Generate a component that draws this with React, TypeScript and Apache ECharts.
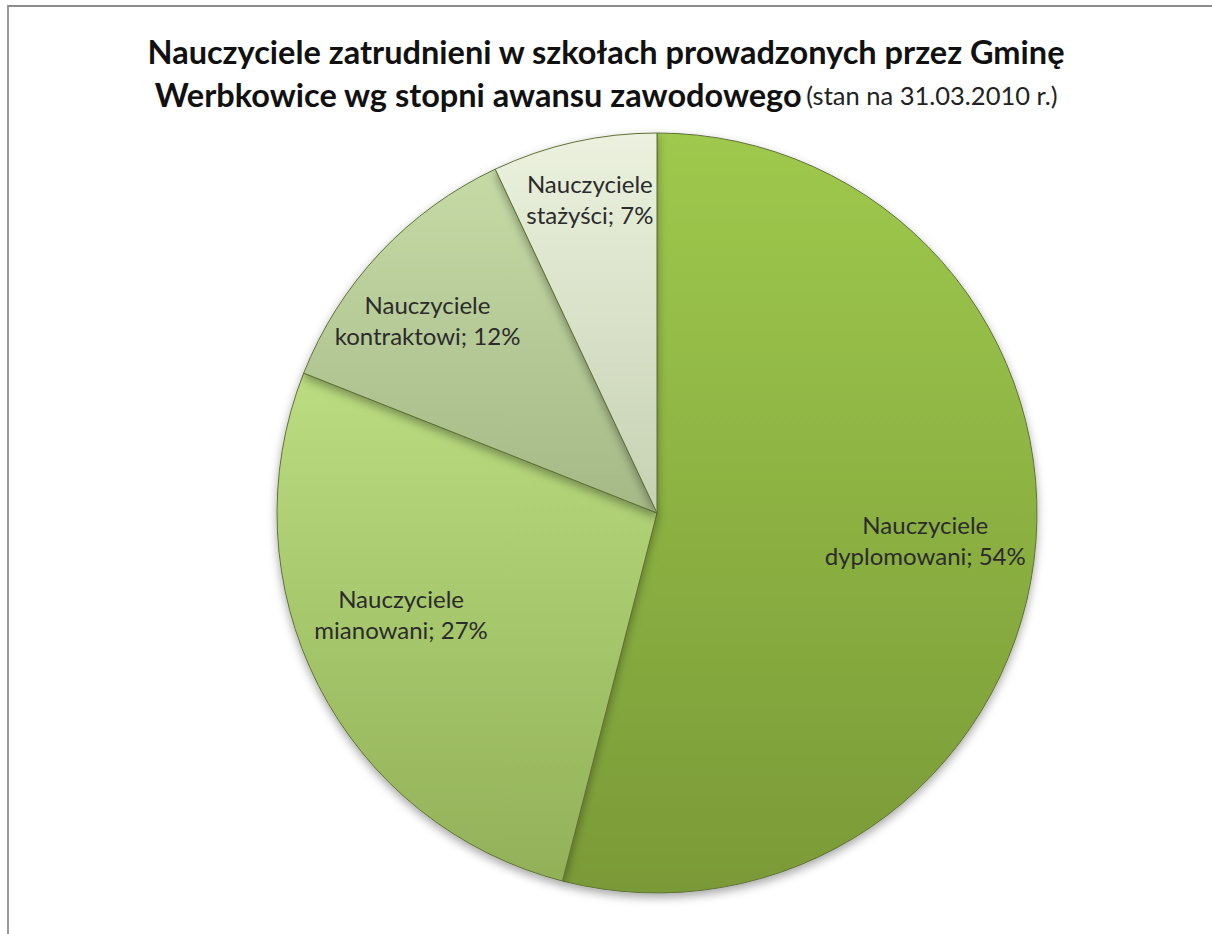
import React, { useEffect, useRef } from "react";
import * as echarts from "echarts";

const categories = [
  "Nauczyciele dyplomowani",
  "Nauczyciele mianowani",
  "Nauczyciele kontraktowi",
  "Nauczyciele stażyści",
];
const shares = [54, 27, 12, 7];
const labelLines = [
  "Nauczyciele\ndyplomowani; 54%",
  "Nauczyciele\nmianowani; 27%",
  "Nauczyciele\nkontraktowi; 12%",
  "Nauczyciele\nstażyści; 7%",
];
const sliceColors = [
  ["#9ec94d", "#7a9a37"],
  ["#bbdc80", "#92b158"],
  ["#c6daa6", "#a5b987"],
  ["#ebf1de", "#c6d1b2"],
];
// small style nudges of the inside labels (px)
const labelNudges = [
  [-10, -8],
  [-6, -26],
  [-25, -1],
  [-6, -40],
];

const FONT = "Lato, 'Open Sans', sans-serif";

export default function App() {
  const ref = useRef<HTMLDivElement>(null);
  useEffect(() => {
    document.body.style.margin = "0";
    const chart = echarts.init(ref.current!, undefined, { renderer: "svg" });
    const grad = (i: number) =>
      new echarts.graphic.LinearGradient(0, 0, 0, 1, [
        { offset: 0, color: sliceColors[i][0] },
        { offset: 1, color: sliceColors[i][1] },
      ]);
    chart.setOption({
      animation: false,
      backgroundColor: "#ffffff",
      title: {
        left: "center",
        top: 25,
        text:
          "{b|Nauczyciele zatrudnieni w szkołach prowadzonych przez Gminę}\n{b|Werbkowice wg stopni awansu zawodowego} {s|(stan na 31.03.2010 r.)}",
        textStyle: {
          fontFamily: FONT,
          rich: {
            b: {
              fontFamily: FONT,
              fontSize: 32.5,
              fontWeight: "bold",
              color: "#111111",
              lineHeight: 43,
            },
            s: {
              fontFamily: FONT,
              fontSize: 25.5,
              fontWeight: "normal",
              color: "#222222",
              lineHeight: 43,
            },
          },
        },
      },
      series: [
        {
          type: "pie",
          center: [657, 513],
          radius: [0, 380],
          startAngle: 90,
          clockwise: true,
          silent: true,
          label: { show: false },
          labelLine: { show: false },
          itemStyle: {
            borderColor: "#5f7236",
            borderWidth: 1,
            shadowBlur: 10,
            shadowOffsetY: 4,
            shadowColor: "rgba(0,0,0,0.35)",
          },
          data: categories.map((c, i) => ({
            name: c,
            value: shares[i],
            itemStyle: { color: grad(i) },
          })),
        },
        {
          type: "pie",
          center: [657, 513],
          radius: [175, 380],
          startAngle: 90,
          clockwise: true,
          silent: true,
          itemStyle: { color: "rgba(0,0,0,0)", borderWidth: 0 },
          labelLine: { show: false },
          label: {
            show: true,
            position: "inside",
            fontFamily: FONT,
            fontSize: 24,
            lineHeight: 31,
            color: "#2b2b2b",
            align: "center",
            formatter: (p: any) => labelLines[p.dataIndex],
          },
          data: categories.map((c, i) => ({
            name: c,
            value: shares[i],
            label: { offset: labelNudges[i] },
          })),
        },
      ],
    });
    return () => chart.dispose();
  }, []);
  return (
    <div style={{ position: "fixed", left: 0, top: 0, width: 1212, height: 934, background: "#fff" }}>
      <div ref={ref} style={{ position: "absolute", left: 0, top: 0, width: 1212, height: 934 }} />
      <div
        style={{
          position: "absolute",
          left: 7,
          top: 5,
          width: 1205,
          height: 929,
          borderTop: "2px solid #8c8c8c",
          borderLeft: "2px solid #9a9a9a",
          boxSizing: "border-box",
          pointerEvents: "none",
        }}
      />
    </div>
  );
}
